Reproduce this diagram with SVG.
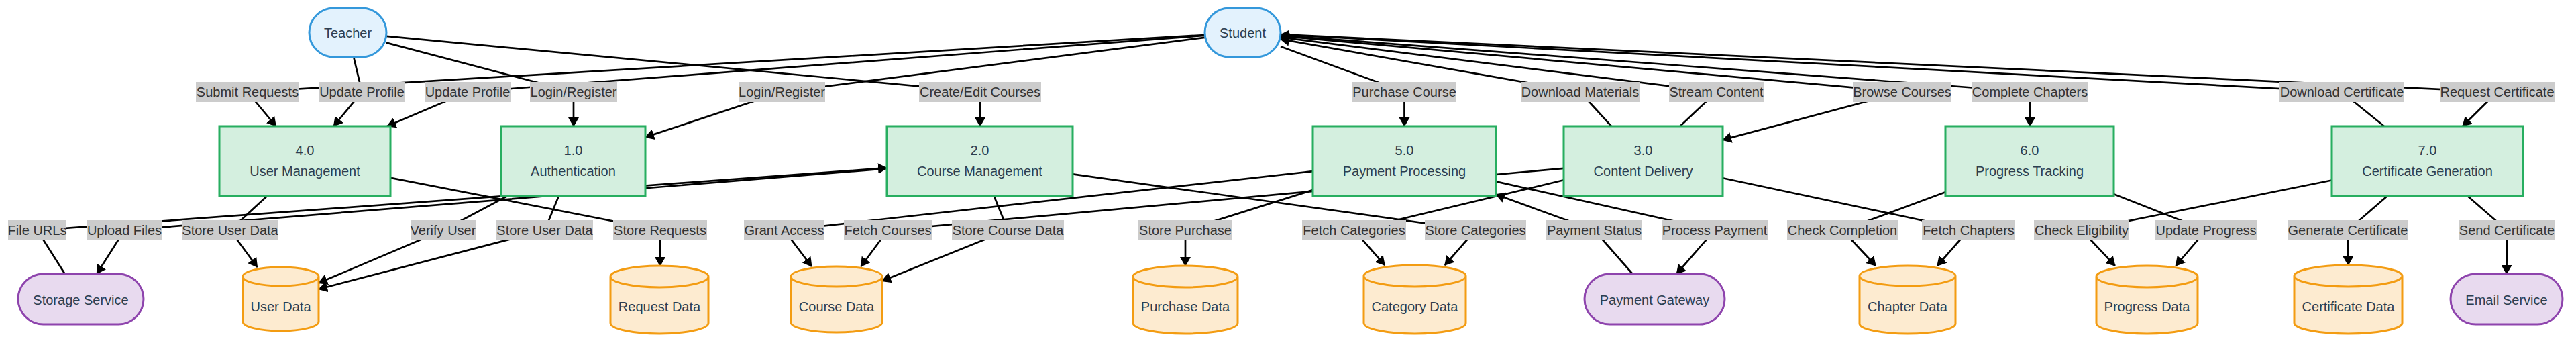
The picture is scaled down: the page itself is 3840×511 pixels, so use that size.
<svg xmlns="http://www.w3.org/2000/svg" width="3840" height="511" viewBox="0 0 3840 511">
<style>
text{font-family:"Liberation Sans",Arial,sans-serif;font-size:20px;text-anchor:middle}
.ent{fill:#E3F2FD;stroke:#3498DB;stroke-width:3}
.proc{fill:#D4EFDF;stroke:#27AE60;stroke-width:3}
.store{fill:#FDEBD0;stroke:#F39C12;stroke-width:3}
.ext{fill:#E8DAEF;stroke:#8E44AD;stroke-width:3}
.nt{fill:#2C3E50}
.e{fill:none;stroke:#000;stroke-width:2.7}
.a{marker-end:url(#arr)}
.lb{fill:#CCCCCC}
.lt{fill:#333333}
</style>
<defs>
<marker id="arr" markerUnits="userSpaceOnUse" viewBox="0 0 14 16" refX="13" refY="8" markerWidth="14" markerHeight="16" orient="auto">
<path d="M0,0 L14,8 L0,16 z" fill="#000"/>
</marker>
</defs>
<rect width="3840" height="511" fill="#fff"/>
<g id="connectors">
<path class="e a" d="M1796,52 L369,137 L411.3,188"/>
<path class="e a" d="M527.2,85 L539.5,137 L497.4,188"/>
<path class="e a" d="M1796,52.8 L697,137 L577,188"/>
<path class="e a" d="M576,63.6 L855,137 L855,188"/>
<path class="e a" d="M1796,55.8 L1165.5,137 L962,204.4"/>
<path class="e a" d="M576,53.9 L1461,137 L1461,188"/>
<path class="e a" d="M1909,69.2 L2093.5,137 L2093.5,188"/>
<path class="e a" d="M2402,188 L2355.5,137 L1909,58.4"/>
<path class="e a" d="M2504.5,188 L2558.5,137 L1909,55.6"/>
<path class="e a" d="M1909,53.6 L2835.5,137 L2568,208.4"/>
<path class="e a" d="M1909,52.8 L3026,137 L3026,188"/>
<path class="e a" d="M3554,188 L3491,137 L1909,51.5"/>
<path class="e a" d="M1909,51.2 L3722.5,137 L3671,188"/>
<path class="e a" d="M96.7,408 L55.5,343 L1322,250.2"/>
<path class="e a" d="M1322,251.2 L185.5,343 L144.3,408"/>
<path class="e a" d="M398.2,292 L343,343 L383.5,398"/>
<path class="e a" d="M756.5,292 L660.5,343 L475,421.6"/>
<path class="e a" d="M833,292 L812,343 L475,430.8"/>
<path class="e a" d="M582,264.8 L984,343 L984,396"/>
<path class="e a" d="M1957,255.2 L1169,343 L1209.9,397"/>
<path class="e a" d="M2331,250.8 L1323.5,343 L1283.4,397"/>
<path class="e a" d="M1481.7,292 L1502.5,343 L1315,418.6"/>
<path class="e a" d="M1957,283.1 L1767,343 L1767,396"/>
<path class="e a" d="M2331,268.3 L2018.5,343 L2064.2,395"/>
<path class="e a" d="M1599,259.3 L2199.5,343 L2153.8,395"/>
<path class="e a" d="M2433.6,408 L2376.5,343 L2230,289.7"/>
<path class="e a" d="M2230,270.4 L2556,343 L2499.3,408"/>
<path class="e a" d="M2900,286.3 L2746.5,343 L2796.2,396"/>
<path class="e a" d="M2568,265.2 L2934.5,343 L2887.9,396"/>
<path class="e a" d="M3476,268.5 L3103,343 L3152.9,396"/>
<path class="e a" d="M3151,289.2 L3288.5,343 L3243.4,396"/>
<path class="e a" d="M3558.7,292 L3500,343 L3500.5,395"/>
<path class="e a" d="M3678.3,292 L3737,343 L3736.5,408"/>
</g>
<g id="edge-labels">
<rect class="lb" x="292" y="122" width="154" height="30"/><text class="lt" x="369" y="144">Submit Requests</text>
<rect class="lb" x="475" y="122" width="129" height="30"/><text class="lt" x="539.5" y="144">Update Profile</text>
<rect class="lb" x="633" y="122" width="128" height="30"/><text class="lt" x="697" y="144">Update Profile</text>
<rect class="lb" x="790" y="122" width="130" height="30"/><text class="lt" x="855" y="144">Login/Register</text>
<rect class="lb" x="1101" y="122" width="129" height="30"/><text class="lt" x="1165.5" y="144">Login/Register</text>
<rect class="lb" x="1370" y="122" width="182" height="30"/><text class="lt" x="1461" y="144">Create/Edit Courses</text>
<rect class="lb" x="2016" y="122" width="155" height="30"/><text class="lt" x="2093.5" y="144">Purchase Course</text>
<rect class="lb" x="2267" y="122" width="177" height="30"/><text class="lt" x="2355.5" y="144">Download Materials</text>
<rect class="lb" x="2488" y="122" width="141" height="30"/><text class="lt" x="2558.5" y="144">Stream Content</text>
<rect class="lb" x="2762" y="122" width="147" height="30"/><text class="lt" x="2835.5" y="144">Browse Courses</text>
<rect class="lb" x="2939" y="122" width="174" height="30"/><text class="lt" x="3026" y="144">Complete Chapters</text>
<rect class="lb" x="3398" y="122" width="186" height="30"/><text class="lt" x="3491" y="144">Download Certificate</text>
<rect class="lb" x="3637" y="122" width="171" height="30"/><text class="lt" x="3722.5" y="144">Request Certificate</text>
<rect class="lb" x="12" y="328" width="87" height="30"/><text class="lt" x="55.5" y="350">File URLs</text>
<rect class="lb" x="129" y="328" width="113" height="30"/><text class="lt" x="185.5" y="350">Upload Files</text>
<rect class="lb" x="271" y="328" width="144" height="30"/><text class="lt" x="343" y="350">Store User Data</text>
<rect class="lb" x="612" y="328" width="97" height="30"/><text class="lt" x="660.5" y="350">Verify User</text>
<rect class="lb" x="740" y="328" width="144" height="30"/><text class="lt" x="812" y="350">Store User Data</text>
<rect class="lb" x="914" y="328" width="140" height="30"/><text class="lt" x="984" y="350">Store Requests</text>
<rect class="lb" x="1109" y="328" width="120" height="30"/><text class="lt" x="1169" y="350">Grant Access</text>
<rect class="lb" x="1258" y="328" width="131" height="30"/><text class="lt" x="1323.5" y="350">Fetch Courses</text>
<rect class="lb" x="1419" y="328" width="167" height="30"/><text class="lt" x="1502.5" y="350">Store Course Data</text>
<rect class="lb" x="1697" y="328" width="140" height="30"/><text class="lt" x="1767" y="350">Store Purchase</text>
<rect class="lb" x="1941" y="328" width="155" height="30"/><text class="lt" x="2018.5" y="350">Fetch Categories</text>
<rect class="lb" x="2124" y="328" width="151" height="30"/><text class="lt" x="2199.5" y="350">Store Categories</text>
<rect class="lb" x="2305" y="328" width="143" height="30"/><text class="lt" x="2376.5" y="350">Payment Status</text>
<rect class="lb" x="2477" y="328" width="158" height="30"/><text class="lt" x="2556" y="350">Process Payment</text>
<rect class="lb" x="2664" y="328" width="165" height="30"/><text class="lt" x="2746.5" y="350">Check Completion</text>
<rect class="lb" x="2865" y="328" width="139" height="30"/><text class="lt" x="2934.5" y="350">Fetch Chapters</text>
<rect class="lb" x="3032" y="328" width="142" height="30"/><text class="lt" x="3103" y="350">Check Eligibility</text>
<rect class="lb" x="3213" y="328" width="151" height="30"/><text class="lt" x="3288.5" y="350">Update Progress</text>
<rect class="lb" x="3410" y="328" width="180" height="30"/><text class="lt" x="3500" y="350">Generate Certificate</text>
<rect class="lb" x="3665" y="328" width="144" height="30"/><text class="lt" x="3737" y="350">Send Certificate</text>
</g>
<g id="teacher"><rect class="ent" x="461" y="12" width="115" height="73" rx="36.5"/><text class="nt" x="518.5" y="55.5">Teacher</text></g>
<g id="student"><rect class="ent" x="1796" y="12" width="113" height="73" rx="36.5"/><text class="nt" x="1852.5" y="55.5">Student</text></g>
<g id="p4"><rect class="proc" x="327" y="188" width="255" height="104"/><text class="nt" x="454.5" y="231">4.0</text><text class="nt" x="454.5" y="262">User Management</text></g>
<g id="p1"><rect class="proc" x="747" y="188" width="215" height="104"/><text class="nt" x="854.5" y="231">1.0</text><text class="nt" x="854.5" y="262">Authentication</text></g>
<g id="p2"><rect class="proc" x="1322" y="188" width="277" height="104"/><text class="nt" x="1460.5" y="231">2.0</text><text class="nt" x="1460.5" y="262">Course Management</text></g>
<g id="p5"><rect class="proc" x="1957" y="188" width="273" height="104"/><text class="nt" x="2093.5" y="231">5.0</text><text class="nt" x="2093.5" y="262">Payment Processing</text></g>
<g id="p3"><rect class="proc" x="2331" y="188" width="237" height="104"/><text class="nt" x="2449.5" y="231">3.0</text><text class="nt" x="2449.5" y="262">Content Delivery</text></g>
<g id="p6"><rect class="proc" x="2900" y="188" width="251" height="104"/><text class="nt" x="3025.5" y="231">6.0</text><text class="nt" x="3025.5" y="262">Progress Tracking</text></g>
<g id="p7"><rect class="proc" x="3476" y="188" width="285" height="104"/><text class="nt" x="3618.5" y="231">7.0</text><text class="nt" x="3618.5" y="262">Certificate Generation</text></g>
<g id="storage-service"><rect class="ext" x="27" y="408" width="187" height="75" rx="37.5"/><text class="nt" x="120.5" y="454">Storage Service</text></g>
<g id="payment-gateway"><rect class="ext" x="2362" y="408" width="209" height="75" rx="37.5"/><text class="nt" x="2466.5" y="454">Payment Gateway</text></g>
<g id="email-service"><rect class="ext" x="3653" y="408" width="167" height="75" rx="37.5"/><text class="nt" x="3736.5" y="454">Email Service</text></g>
<g id="user-data"><path class="store" d="M362,412 L362,479 A56.5,14 0 0 0 475,479 L475,412 A56.5,14 0 0 0 362,412 Z M362,412 A56.5,14 0 0 0 475,412"/><text class="nt" x="418.5" y="464">User Data</text></g>
<g id="request-data"><path class="store" d="M910,412 L910,481 A73,16 0 0 0 1056,481 L1056,412 A73,16 0 0 0 910,412 Z M910,412 A73,16 0 0 0 1056,412"/><text class="nt" x="983" y="464">Request Data</text></g>
<g id="course-data"><path class="store" d="M1179,412 L1179,480 A68,15 0 0 0 1315,480 L1315,412 A68,15 0 0 0 1179,412 Z M1179,412 A68,15 0 0 0 1315,412"/><text class="nt" x="1247" y="464">Course Data</text></g>
<g id="purchase-data"><path class="store" d="M1689,412 L1689,481 A78,16 0 0 0 1845,481 L1845,412 A78,16 0 0 0 1689,412 Z M1689,412 A78,16 0 0 0 1845,412"/><text class="nt" x="1767" y="464">Purchase Data</text></g>
<g id="category-data"><path class="store" d="M2033,411 L2033,481 A76,16 0 0 0 2185,481 L2185,411 A76,16 0 0 0 2033,411 Z M2033,411 A76,16 0 0 0 2185,411"/><text class="nt" x="2109" y="464">Category Data</text></g>
<g id="chapter-data"><path class="store" d="M2772,411 L2772,482 A71.5,15 0 0 0 2915,482 L2915,411 A71.5,15 0 0 0 2772,411 Z M2772,411 A71.5,15 0 0 0 2915,411"/><text class="nt" x="2843.5" y="464">Chapter Data</text></g>
<g id="progress-data"><path class="store" d="M3125,412 L3125,481 A75.5,16 0 0 0 3276,481 L3276,412 A75.5,16 0 0 0 3125,412 Z M3125,412 A75.5,16 0 0 0 3276,412"/><text class="nt" x="3200.5" y="464">Progress Data</text></g>
<g id="certificate-data"><path class="store" d="M3420,411 L3420,481 A80.5,16 0 0 0 3581,481 L3581,411 A80.5,16 0 0 0 3420,411 Z M3420,411 A80.5,16 0 0 0 3581,411"/><text class="nt" x="3500.5" y="464">Certificate Data</text></g>
</svg>
